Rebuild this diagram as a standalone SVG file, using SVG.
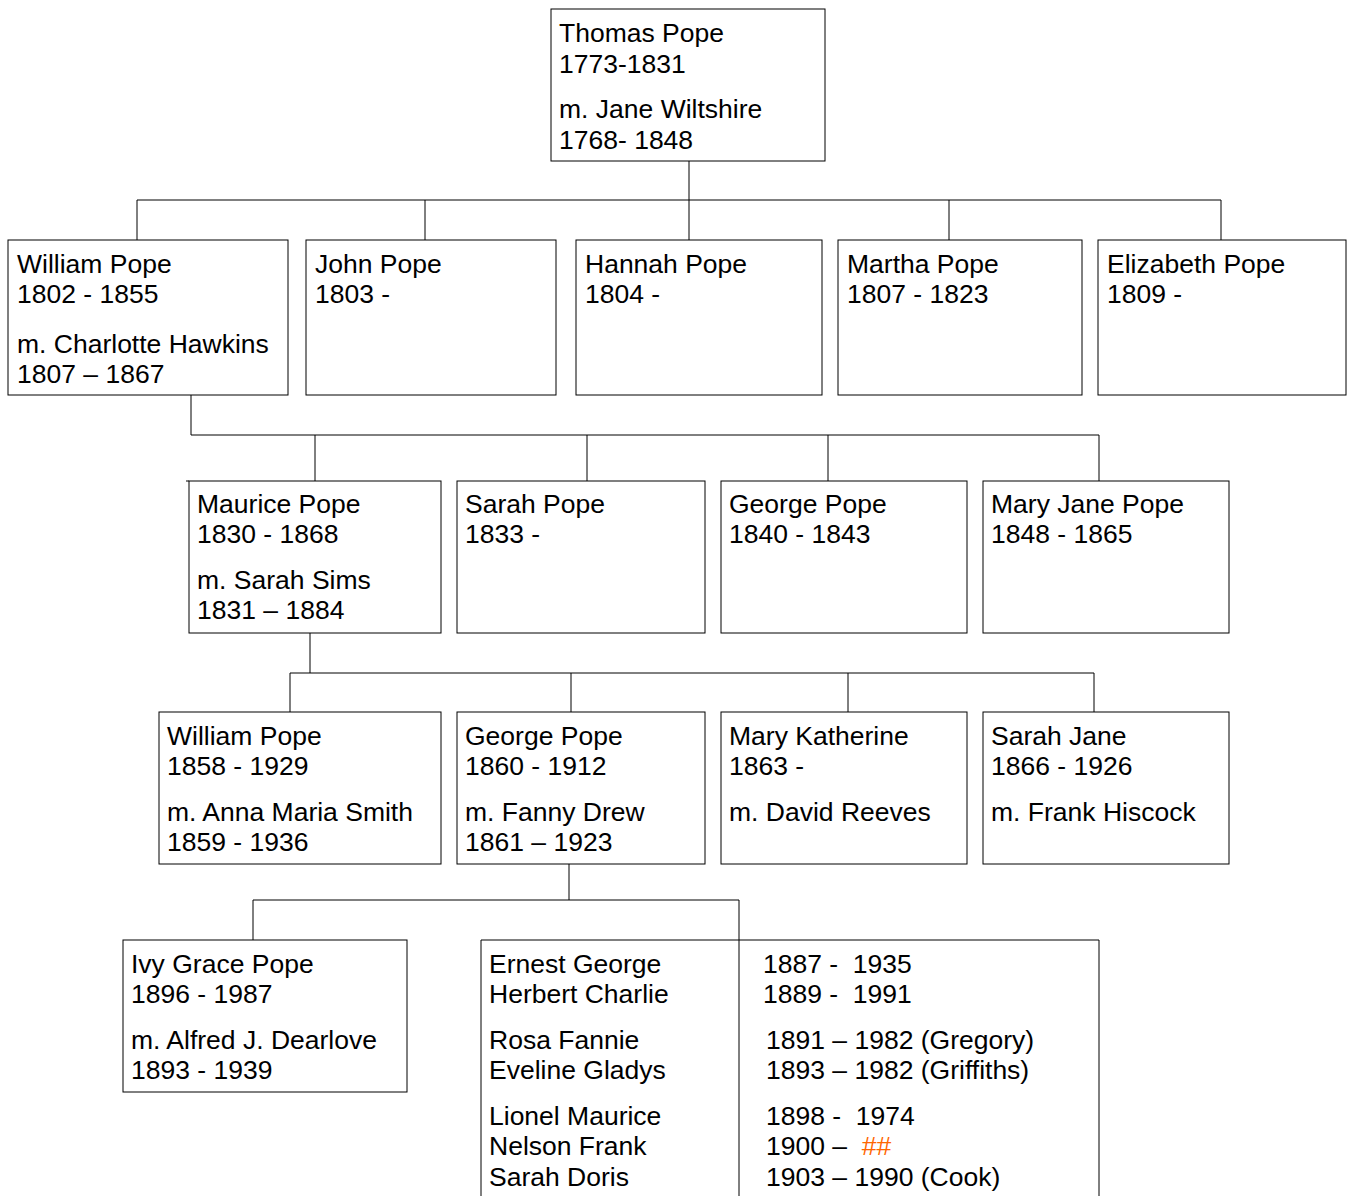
<svg xmlns="http://www.w3.org/2000/svg" width="1348" height="1196" viewBox="0 0 1348 1196">
<style>
.box{fill:#fff;stroke:#000;stroke-width:1}
.ln{fill:none;stroke:#000;stroke-width:1}
text{font-family:"Liberation Sans",Arial,sans-serif;font-size:26.5px;fill:#000;white-space:pre}
.or{fill:#ff6600}
</style>
<rect width="1348" height="1196" fill="#fff"/>
<g id="connectors">
<path class="ln" d="M689 161V200M137 200H1221M137 200V240M425 200V240M689 200V240M949 200V240M1221 200V240"/>
<path class="ln" d="M191 395V435M191 435H1099M315 435V481M587 435V481M828 435V481M1099 435V481"/>
<path class="ln" d="M310 633V673M290 673H1094M290 673V712M571 673V712M848 673V712M1094 673V712"/>
<path class="ln" d="M569 864V900M253 900H739M253 900V940M739 900V1200"/>
</g>
<g id="thomas"><rect class="box" x="551" y="9" width="274" height="152"/>
<text x="559" y="42">Thomas Pope</text><text x="559" y="73">1773-1831</text><text x="559" y="118">m. Jane Wiltshire</text><text x="559" y="149">1768- 1848</text></g>
<g id="william1"><rect class="box" x="8" y="240" width="280" height="155"/>
<text x="17" y="273">William Pope</text><text x="17" y="303">1802 - 1855</text><text x="17" y="353">m. Charlotte Hawkins</text><text x="17" y="383">1807 – 1867</text></g>
<g id="john"><rect class="box" x="306" y="240" width="250" height="155"/>
<text x="315" y="273">John Pope</text><text x="315" y="303">1803 -</text></g>
<g id="hannah"><rect class="box" x="576" y="240" width="246" height="155"/>
<text x="585" y="273">Hannah Pope</text><text x="585" y="303">1804 -</text></g>
<g id="martha"><rect class="box" x="838" y="240" width="244" height="155"/>
<text x="847" y="273">Martha Pope</text><text x="847" y="303">1807 - 1823</text></g>
<g id="elizabeth"><rect class="box" x="1098" y="240" width="248" height="155"/>
<text x="1107" y="273">Elizabeth Pope</text><text x="1107" y="303">1809 -</text></g>
<g id="maurice"><rect class="box" x="189" y="481" width="252" height="152"/>
<path class="ln" d="M186 481H189"/>
<text x="197" y="513">Maurice Pope</text><text x="197" y="543">1830 - 1868</text><text x="197" y="589">m. Sarah Sims</text><text x="197" y="619">1831 – 1884</text></g>
<g id="sarah"><rect class="box" x="457" y="481" width="248" height="152"/>
<text x="465" y="513">Sarah Pope</text><text x="465" y="543">1833 -</text></g>
<g id="george1"><rect class="box" x="721" y="481" width="246" height="152"/>
<text x="729" y="513">George Pope</text><text x="729" y="543">1840 - 1843</text></g>
<g id="maryjane"><rect class="box" x="983" y="481" width="246" height="152"/>
<text x="991" y="513">Mary Jane Pope</text><text x="991" y="543">1848 - 1865</text></g>
<g id="william2"><rect class="box" x="159" y="712" width="282" height="152"/>
<text x="167" y="745">William Pope</text><text x="167" y="775">1858 - 1929</text><text x="167" y="821">m. Anna Maria Smith</text><text x="167" y="851">1859 - 1936</text></g>
<g id="george2"><rect class="box" x="457" y="712" width="248" height="152"/>
<text x="465" y="745">George Pope</text><text x="465" y="775">1860 - 1912</text><text x="465" y="821">m. Fanny Drew</text><text x="465" y="851">1861 – 1923</text></g>
<g id="marykatherine"><rect class="box" x="721" y="712" width="246" height="152"/>
<text x="729" y="745">Mary Katherine</text><text x="729" y="775">1863 -</text><text x="729" y="821">m. David Reeves</text></g>
<g id="sarahjane"><rect class="box" x="983" y="712" width="246" height="152"/>
<text x="991" y="745">Sarah Jane</text><text x="991" y="775">1866 - 1926</text><text x="991" y="821">m. Frank Hiscock</text></g>
<g id="ivy"><rect class="box" x="123" y="940" width="284" height="152"/>
<text x="131" y="973">Ivy Grace Pope</text><text x="131" y="1003">1896 - 1987</text><text x="131" y="1049">m. Alfred J. Dearlove</text><text x="131" y="1079">1893 - 1939</text></g>
<g id="children"><path class="ln" d="M481 1200V940H1099V1200"/>
<text x="489" y="973">Ernest George</text><text x="489" y="1003">Herbert Charlie</text>
<text x="489" y="1049">Rosa Fannie</text><text x="489" y="1079">Eveline Gladys</text>
<text x="489" y="1125">Lionel Maurice</text><text x="489" y="1155">Nelson Frank</text><text x="489" y="1186">Sarah Doris</text>
<text x="763" y="973">1887 -  1935</text><text x="763" y="1003">1889 -  1991</text>
<text x="766" y="1049">1891 – 1982 (Gregory)</text><text x="766" y="1079">1893 – 1982 (Griffiths)</text>
<text x="766" y="1125">1898 -  1974</text><text x="766" y="1155">1900 –  <tspan class="or">##</tspan></text><text x="766" y="1186">1903 – 1990 (Cook)</text></g>
</svg>
